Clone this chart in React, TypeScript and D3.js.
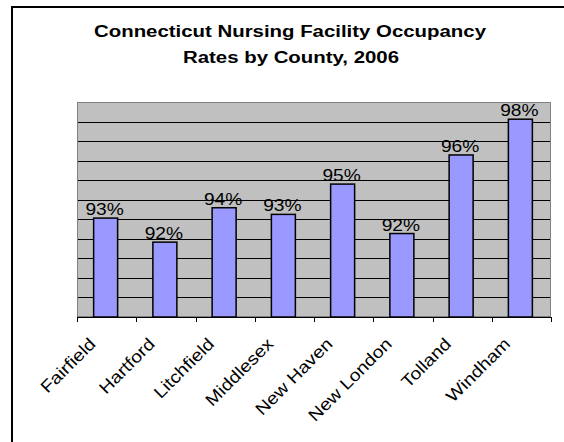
import React from "react";
import * as d3 from "d3";

const counties = ["Fairfield", "Hartford", "Litchfield", "Middlesex", "New Haven", "New London", "Tolland", "Windham"];
const occupancy = [0.9306, 0.9183, 0.9359, 0.9325, 0.948, 0.9227, 0.9629, 0.9812];
const titleLines = ["Connecticut Nursing Facility Occupancy", "Rates by County, 2006"];
const yDomain = [0.88, 0.99];
const gridValues = [0.89, 0.9, 0.91, 0.92, 0.93, 0.94, 0.95, 0.96, 0.97, 0.98];

const W = 564, H = 442;
const left = 77, right = 551, top = 102, bottom = 317;
const font = "Arial, 'Liberation Sans', Helvetica, sans-serif";

export default function App() {
    const x = d3.scaleBand().domain(counties).range([left, right]).padding(0);
    const y = d3.scaleLinear().domain(yDomain).range([bottom, top]);
    const fmt = d3.format(".0%");
    const bw = x.bandwidth();
    const barW = 24;
    const tickXs = counties.map((c) => x(c)!).concat([right]);

    return (
        <svg width={W} height={H} style={{ position: "absolute", left: 0, top: 0, display: "block" }}>
            <rect x={0} y={0} width={W} height={H} fill="#fff" />
            <rect x={12} y={7} width={560} height={445} fill="#fff" stroke="#000" strokeWidth={2} />

            {/* title, text is a bit wide in the original so stretch it */}
            <text transform="translate(290,37) scale(1.2,1)" textAnchor="middle" fontFamily={font}
                fontWeight="bold" fontSize={17}>{titleLines[0]}</text>
            <text transform="translate(291,63) scale(1.2,1)" textAnchor="middle" fontFamily={font}
                fontWeight="bold" fontSize={17}>{titleLines[1]}</text>

            {/* plot area */}
            <rect x={left} y={top} width={right - left} height={bottom - top} fill="#c0c0c0" />
            {gridValues.map((v) => (
                <line key={v} x1={left} x2={right} y1={Math.round(y(v)) + 0.5} y2={Math.round(y(v)) + 0.5}
                    stroke="#000" strokeWidth={1} />
            ))}
            <rect x={left + 0.5} y={top + 0.5} width={right - left - 1} height={bottom - top - 1}
                fill="none" stroke="#808080" strokeWidth={1} />

            {/* bars */}
            {counties.map((c, i) => (
                <rect key={c} x={x(c)! + (bw - barW) / 2 - 1} y={y(occupancy[i])} width={barW}
                    height={bottom - y(occupancy[i])} fill="#9999ff" stroke="#000" strokeWidth={1.5} />
            ))}

            {/* value labels */}
            {counties.map((c, i) => (
                <text key={c} transform={`translate(${x(c)! + bw / 2 - 2},${y(occupancy[i]) - 3}) scale(1.13,1)`}
                    textAnchor="middle" fontFamily={font} fontSize={17}>
                    {fmt(occupancy[i])}
                </text>
            ))}

            {/* x axis */}
            <line x1={left} x2={right} y1={bottom + 0.5} y2={bottom + 0.5} stroke="#000" strokeWidth={1} />
            {tickXs.map((t, i) => (
                <line key={i} x1={Math.round(t) + 0.5} x2={Math.round(t) + 0.5} y1={bottom} y2={bottom + 5}
                    stroke="#000" strokeWidth={1} />
            ))}
            {counties.map((c) => (
                <text key={c} transform={`translate(${x(c)! + bw / 2 - 10},345) rotate(-45) scale(1.15,1)`}
                    textAnchor="end" fontFamily={font} fontSize={17}>{c}</text>
            ))}
        </svg>
    );
}
